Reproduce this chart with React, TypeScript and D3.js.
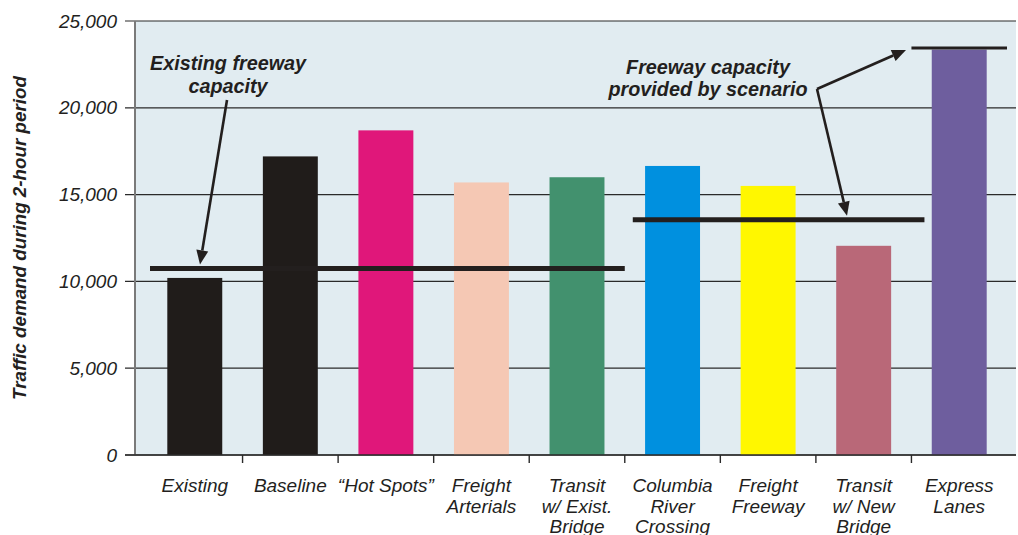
import React from "react";
import * as d3 from "d3";

// Scenario categories (multi-line labels) and their 2-hour traffic demand
const categories: string[][] = [
  ["Existing"],
  ["Baseline"],
  ["\u201CHot Spots\u201D"],
  ["Freight", "Arterials"],
  ["Transit", "w/ Exist.", "Bridge"],
  ["Columbia", "River", "Crossing"],
  ["Freight", "Freeway"],
  ["Transit", "w/ New", "Bridge"],
  ["Express", "Lanes"],
];
const demand: number[] = [10200, 17200, 18700, 15700, 16000, 16650, 15500, 12050, 23350];
const barColors: string[] = [
  "#201c1a", "#201c1a", "#e0177a", "#f5c8b4", "#42916e",
  "#0090df", "#fff700", "#b96878", "#6e5e9e",
];
// Freeway capacity available under each scenario
const capacity: number[] = [10750, 10750, 10750, 10750, 10750, 13550, 13550, 13550, 23450];
const yTicks: number[] = [0, 5000, 10000, 15000, 20000, 25000];

const W = 1018;
const H = 535;
const plot = { left: 135, right: 1016, top: 21, bottom: 455 };
const font = "'Liberation Sans', Arial, Helvetica, sans-serif";
const ink = "#231f1e";

function Arrow({ x1, y1, x2, y2 }: { x1: number; y1: number; x2: number; y2: number }) {
  const ang = Math.atan2(y2 - y1, x2 - x1);
  const len = 14;
  const half = 6;
  const bx = x2 - len * Math.cos(ang);
  const by = y2 - len * Math.sin(ang);
  const px = -Math.sin(ang) * half;
  const py = Math.cos(ang) * half;
  return (
    <g>
      <line x1={x1} y1={y1} x2={bx} y2={by} stroke={ink} strokeWidth={2.6} />
      <path d={`M${x2},${y2} L${bx + px},${by + py} L${bx - px},${by - py} Z`} fill={ink} />
    </g>
  );
}

export default function App() {
  const x = d3
    .scaleBand<number>()
    .domain(d3.range(categories.length))
    .range([147, 1007])
    .padding(0);
  const y = d3.scaleLinear().domain([0, 25000]).range([plot.bottom, plot.top]);
  const bw = x.bandwidth();
  const barW = bw * 0.575;

  // Group consecutive categories sharing the same capacity into one segment
  const segments: { start: number; end: number; value: number }[] = [];
  capacity.forEach((v, i) => {
    const last = segments[segments.length - 1];
    if (last && last.value === v) last.end = i;
    else segments.push({ start: i, end: i, value: v });
  });
  const segStyle = [
    { dx0: 3, dx1: 0, w: 5 },
    { dx0: 8, dx1: 13, w: 5 },
    { dx0: 0, dx1: 0, w: 3 },
  ];

  return (
    <svg width={W} height={H} style={{ position: "absolute", left: 0, top: 0, fontFamily: font }}>
      <rect x={0} y={0} width={W} height={H} fill="#ffffff" />
      <rect
        x={plot.left}
        y={plot.top}
        width={plot.right - plot.left}
        height={plot.bottom - plot.top}
        fill="#e1ecf1"
      />
      {/* gridlines and y ticks */}
      {yTicks.map((t) => (
        <g key={t}>
          <line x1={125} x2={plot.right} y1={y(t)} y2={y(t)} stroke="#2a2a2a" strokeWidth={1.2} />
          <text
            x={117}
            y={y(t) + 6.5}
            textAnchor="end"
            fontSize={19}
            fontStyle="italic"
            fill={ink}
          >
            {d3.format(",")(t)}
          </text>
        </g>
      ))}
      <line x1={plot.left} x2={plot.left} y1={plot.top} y2={plot.bottom} stroke="#7a7a7a" strokeWidth={2} />

      {/* bars */}
      {demand.map((d, i) => (
        <rect
          key={i}
          x={(x(i) as number) + (bw - barW) / 2}
          y={y(d)}
          width={barW}
          height={y(0) - y(d)}
          fill={barColors[i]}
        />
      ))}

      {/* zero axis and category ticks */}
      <line x1={125} x2={plot.right} y1={y(0)} y2={y(0)} stroke="#2a2a2a" strokeWidth={1.4} />
      {d3.range(1, categories.length).map((i) => (
        <line
          key={i}
          x1={x(i) as number}
          x2={x(i) as number}
          y1={y(0)}
          y2={y(0) + 8}
          stroke="#2a2a2a"
          strokeWidth={1.4}
        />
      ))}

      {/* category labels */}
      {categories.map((lines, i) => (
        <text
          key={i}
          x={(x(i) as number) + bw / 2}
          y={492}
          textAnchor="middle"
          fontSize={19}
          fontStyle="italic"
          fill={ink}
        >
          {lines.map((l, j) => (
            <tspan key={j} x={(x(i) as number) + bw / 2} dy={j === 0 ? 0 : 20.5}>
              {l}
            </tspan>
          ))}
        </text>
      ))}

      {/* capacity lines */}
      {segments.map((s, k) => (
        <line
          key={k}
          x1={(x(s.start) as number) + segStyle[k].dx0}
          x2={(x(s.end) as number) + bw + segStyle[k].dx1}
          y1={y(s.value)}
          y2={y(s.value)}
          stroke={ink}
          strokeWidth={segStyle[k].w}
        />
      ))}

      {/* annotations */}
      <g fontSize={19.8} fontWeight="bold" fontStyle="italic" fill={ink} textAnchor="middle">
        <text x={228} y={70}>Existing freeway</text>
        <text x={228} y={93}>capacity</text>
        <text x={708} y={74}>Freeway capacity</text>
        <text x={708} y={96}>provided by scenario</text>
      </g>
      <Arrow x1={227} y1={100} x2={200} y2={y(capacity[0]) - 4} />
      <Arrow x1={817} y1={89} x2={906} y2={y(capacity[8]) + 2} />
      <Arrow x1={817} y1={89} x2={847} y2={y(capacity[5]) - 4} />

      {/* y axis title */}
      <text
        transform={`translate(26, ${238}) rotate(-90)`}
        textAnchor="middle"
        fontSize={18.8}
        fontWeight="bold"
        fontStyle="italic"
        fill={ink}
      >
        Traffic demand during 2-hour period
      </text>
    </svg>
  );
}
